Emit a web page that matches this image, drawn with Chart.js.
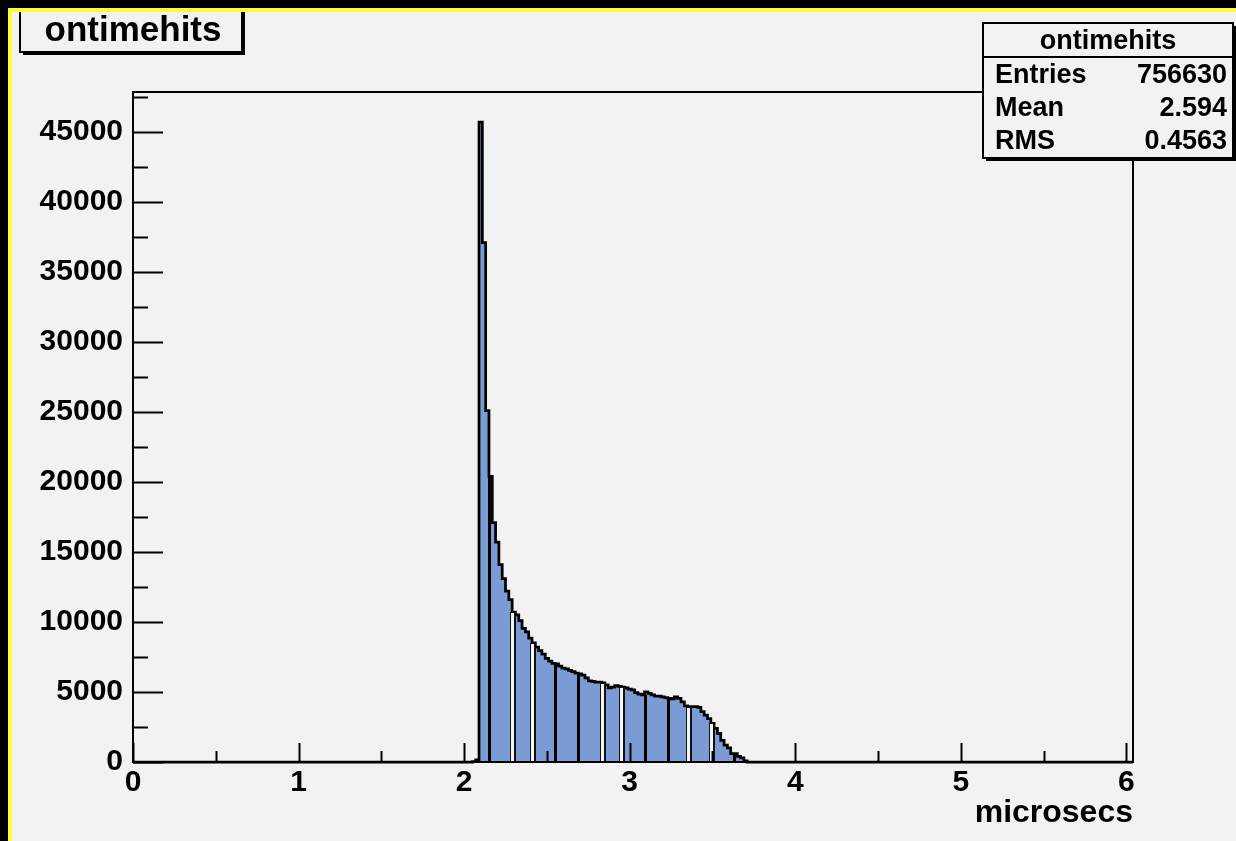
<!DOCTYPE html>
<html>
<head>
<meta charset="utf-8">
<title>ontimehits</title>
<script src="https://cdn.jsdelivr.net/npm/chart.js@4.4.1/dist/chart.umd.min.js"></script>
<style>
  html, body { margin: 0; padding: 0; background: #000; overflow: hidden; }
  #pad {
    position: absolute; left: 8px; top: 8px; width: 1228px; height: 833px;
    background: #f2f2f2; border-top: 4px solid #fcfc3a; border-left: 4px solid #fcfc3a;
    box-sizing: border-box;
  }
  #hist { position: absolute; left: 0; top: 0; }
</style>
</head>
<body>
<div id="pad"></div>
<canvas id="hist" width="1236" height="841"></canvas>
<script>
// histogram binning (microsecs)
const histName = 'ontimehits';
const xTitle = 'microsecs';
const xMin = 0;
const xMax = 6.04;
const binStart = 2.05;
const binWidth = 0.02;

// counts per bin, starting at binStart
const counts = [
  30, 150, 45700, 37100, 25100, 20400, 17100, 15700, 14100, 13100,
  12200, 11600, 10700, 10500, 10100, 9550, 9300, 8850, 8500, 8200,
  7950, 7700, 7400, 7200, 7050, 7000, 6850, 6700, 6650, 6550,
  6450, 6350, 6300, 6200, 6000, 5800, 5750, 5700, 5700, 5650,
  5500, 5300, 5350, 5450, 5400, 5350, 5300, 5200, 5150, 4950,
  4850, 4800, 5000, 4900, 4800, 4700, 4700, 4650, 4600, 4550,
  4500, 4650, 4550, 4300, 4000, 3950, 3950, 3950, 3900, 3600,
  3350, 3100, 2750, 2400, 2050, 1550, 1200, 1000, 600, 600,
  400, 300, 80
];

// stats box
const statLabels = ['Entries', 'Mean', 'RMS'];
const statValues = ['756630', '2.594', '0.4563'];

// axes: labelled ticks, with a half-step minor tick after each
const xMajorTicks = [0, 1, 2, 3, 4, 5, 6];
const yMajorTicks = [0, 5000, 10000, 15000, 20000, 25000, 30000, 35000, 40000, 45000];
const yMax = 47857;

const FONT = '"Liberation Sans", Arial, Helvetica, sans-serif';

// bin edges -> stepped points (value held until the next edge)
function buildPoints() {
  const pts = [{ x: xMin, y: 0 }];
  counts.forEach((c, i) => {
    pts.push({ x: +(binStart + i * binWidth).toFixed(4), y: c });
  });
  pts.push({ x: +(binStart + counts.length * binWidth).toFixed(4), y: 0 });
  pts.push({ x: xMax, y: 0 });
  return pts;
}

function withMinors(majors, max) {
  const step = majors[1] - majors[0];
  const out = [];
  majors.forEach(v => {
    out.push({ value: v, major: true });
    const half = +(v + step / 2).toFixed(6);
    if (half <= max) out.push({ value: half, major: false });
  });
  return out;
}

function paveBox(ctx, x, y, w, h) {
  ctx.fillStyle = '#000';
  ctx.fillRect(x + 3, y + 3, w, h);
  ctx.fillStyle = '#f2f2f2';
  ctx.fillRect(x, y, w, h);
  ctx.strokeStyle = '#000';
  ctx.lineWidth = 2;
  ctx.strokeRect(x, y, w, h);
}

// bin boundary lines inside the filled area (dark / light in pairs)
function drawBinEdges(ctx, x, y) {
  for (let n = 0; ; n++) {
    const i = 5 + Math.round(n * 6.7);
    if (i >= counts.length) break;
    const px = Math.round(x.getPixelForValue(binStart + i * binWidth));
    const top = Math.round(y.getPixelForValue(Math.min(counts[i - 1], counts[i])));
    const base = Math.round(y.getPixelForValue(0));
    const dark = ((n + 1) >> 1) % 2 === 0;
    if (dark) {
      ctx.fillStyle = '#000';
      ctx.fillRect(px - 1, top, 3, base - top);
    } else {
      ctx.fillStyle = '#111';
      ctx.fillRect(px - 2, top, 6, base - top);
      ctx.fillStyle = '#f4f4f4';
      ctx.fillRect(px - 1, top + 1, 3, base - top - 1);
    }
  }
}

const frameAndBoxes = {
  id: 'frameAndBoxes',
  afterDatasetsDraw(chart) {
    const { ctx, chartArea: a, scales: { x, y } } = chart;
    ctx.save();
    drawBinEdges(ctx, x, y);

    ctx.strokeStyle = '#000';
    ctx.lineWidth = 2;
    ctx.strokeRect(a.left, a.top, a.right - a.left, a.bottom - a.top);

    // tick marks point into the frame
    ctx.beginPath();
    x.ticks.forEach(t => {
      const px = Math.round(x.getPixelForValue(t.value)) + 0.5;
      const len = t.major ? 19 : 11;
      ctx.moveTo(px, a.bottom);
      ctx.lineTo(px, a.bottom - len);
    });
    y.ticks.forEach(t => {
      const py = Math.round(y.getPixelForValue(t.value)) + 0.5;
      const len = t.major ? 30 : 15;
      ctx.moveTo(a.left, py);
      ctx.lineTo(a.left + len, py);
    });
    ctx.stroke();
    ctx.restore();
  },
  afterDraw(chart) {
    const { ctx } = chart;
    ctx.save();

    // title pave, cut by the pad edge
    ctx.save();
    ctx.beginPath();
    ctx.rect(12, 12, 1224, 829);
    ctx.clip();
    paveBox(ctx, 20, 2, 222, 50);
    ctx.fillStyle = '#000';
    ctx.font = 'bold 35px ' + FONT;
    ctx.textAlign = 'center';
    ctx.textBaseline = 'alphabetic';
    ctx.fillText(histName, 133, 41);
    ctx.restore();

    // stats pave
    const sx = 983, sy = 23, sw = 250, sh = 135;
    paveBox(ctx, sx, sy, sw, sh);
    ctx.beginPath();
    ctx.moveTo(sx, 57);
    ctx.lineTo(sx + sw, 57);
    ctx.lineWidth = 2;
    ctx.stroke();
    ctx.fillStyle = '#000';
    ctx.font = 'bold 27px ' + FONT;
    ctx.textAlign = 'center';
    ctx.textBaseline = 'alphabetic';
    ctx.fillText(histName, sx + sw / 2, 49);
    statLabels.forEach((lbl, i) => {
      const by = 83 + i * 33;
      ctx.textAlign = 'left';
      ctx.fillText(lbl, sx + 12, by);
      ctx.textAlign = 'right';
      ctx.fillText(statValues[i], sx + sw - 6, by);
    });
    ctx.restore();
  }
};

const chart = new Chart(document.getElementById('hist'), {
  type: 'line',
  data: {
    datasets: [{
      data: buildPoints(),
      stepped: true,
      fill: 'origin',
      backgroundColor: '#7a9bd4',
      borderColor: '#000',
      borderWidth: 2.75,
      pointRadius: 0,
      clip: 6
    }]
  },
  options: {
    responsive: false,
    animation: false,
    devicePixelRatio: 1,
    layout: { padding: { left: 0, top: 92, right: 103, bottom: 0 } },
    plugins: {
      legend: { display: false },
      tooltip: { enabled: false }
    },
    scales: {
      x: {
        type: 'linear',
        min: xMin,
        max: xMax,
        grid: { display: false, drawTicks: false },
        border: { display: false },
        afterBuildTicks: s => { s.ticks = withMinors(xMajorTicks, xMax); },
        ticks: {
          autoSkip: false,
          maxRotation: 0,
          padding: 3,
          color: '#000',
          font: { family: FONT, size: 30, weight: 'bold' },
          callback: v => (xMajorTicks.includes(v) ? String(v) : '')
        },
        title: {
          display: true,
          text: xTitle,
          align: 'end',
          color: '#000',
          font: { family: FONT, size: 32, weight: 'bold' },
          padding: { top: 0, bottom: 9 }
        },
        afterFit: s => { s.height = 79; }
      },
      y: {
        min: 0,
        max: yMax,
        grid: { display: false, drawTicks: false },
        border: { display: false },
        afterBuildTicks: s => { s.ticks = withMinors(yMajorTicks, yMax); },
        ticks: {
          autoSkip: false,
          padding: 10,
          color: '#000',
          font: { family: FONT, size: 30, weight: 'bold' },
          callback: v => (yMajorTicks.includes(v) ? String(v) : '')
        },
        afterFit: s => { s.width = 133; }
      }
    }
  },
  plugins: [frameAndBoxes]
});
</script>
</body>
</html>
